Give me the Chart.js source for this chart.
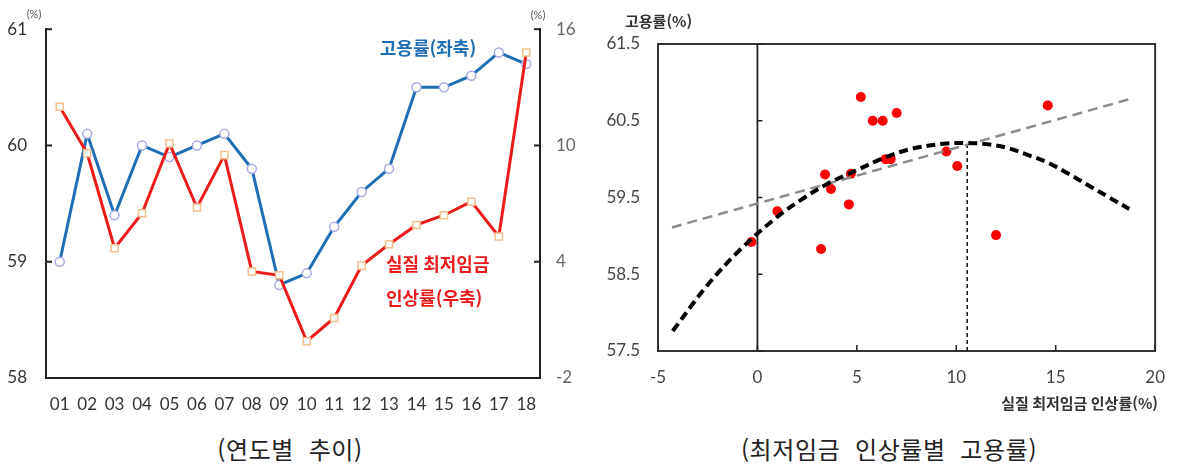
<!DOCTYPE html>
<html lang="ko">
<head>
<meta charset="utf-8">
<title>실질 최저임금 인상률과 고용률</title>
<script src="https://cdn.jsdelivr.net/npm/chart.js@4.4.1/dist/chart.umd.min.js"></script>
<style>
  html, body { margin: 0; padding: 0; background: #fff; }
  #wrap { position: relative; width: 1181px; height: 467px; overflow: hidden; }
  canvas { position: absolute; top: 0; }
  #trend { left: 0; }
  #scatter { left: 590px; }
  .caption {
    position: absolute; top: 433px; transform: translateX(-50%);
    font-family: 'Noto Sans CJK KR', sans-serif; font-size: 24px; color: #222;
    letter-spacing: 0.6px; white-space: pre; line-height: 32px;
  }
</style>
</head>
<body>
<div id="wrap">
  <canvas id="trend" width="590" height="420"></canvas>
  <canvas id="scatter" width="591" height="420"></canvas>
  <div class="caption" style="left:290px">(연도별  추이)</div>
  <div class="caption" style="left:889px">(최저임금  인상률별  고용률)</div>
</div>
<script>
// ---- yearly trend (2001–2018) ----
const years = ['01','02','03','04','05','06','07','08','09','10','11','12','13','14','15','16','17','18'];
const employmentRate = [59.0, 60.1, 59.4, 60.0, 59.9, 60.0, 60.1, 59.8, 58.8, 58.9, 59.3, 59.6, 59.8, 60.5, 60.5, 60.6, 60.8, 60.7];
const realWageGrowth = [12.0, 9.6, 4.7, 6.5, 10.1, 6.8, 9.5, 3.5, 3.3, -0.1, 1.1, 3.8, 4.9, 5.9, 6.4, 7.1, 5.3, 14.8];
const leftTicks = [58, 59, 60, 61];
const rightTicks = [-2, 4, 10, 16];

// ---- employment rate by real minimum-wage growth ----
const wageGrowthX = [-0.3, 1.0, 3.2, 3.4, 3.7, 4.6, 4.7, 5.2, 5.8, 6.3, 6.45, 6.7, 7.0, 9.5, 10.05, 12.0, 14.6];
const employmentY = [58.92, 59.32, 58.83, 59.8, 59.61, 59.41, 59.81, 60.81, 60.5, 60.5, 60.0, 60.0, 60.6, 60.1, 59.91, 59.01, 60.7];
const linearFitX = [-4.3, 18.7];
const linearFitY = [59.11, 60.78];
const quadFitX = [-4.26, -2.6, -0.95, 0.96, 2.37, 3.53, 4.86, 6.4, 7.68, 9.34, 10.55, 11.7, 12.65, 13.65, 14.64, 15.64, 16.63, 17.63, 18.7];
const quadFitY = [57.76, 58.33, 58.8, 59.24, 59.5, 59.68, 59.84, 60.02, 60.13, 60.2, 60.21, 60.19, 60.14, 60.05, 59.95, 59.81, 59.66, 59.51, 59.35];
const peakX = 10.55;
const peakY = 60.21;
const scatterXTicks = [-5, 0, 5, 10, 15, 20];
const scatterYTicks = [57.5, 58.5, 59.5, 60.5, 61.5];

const NUM_FONT = "Lato, 'Noto Sans', sans-serif";
const KR_FONT = "'Noto Sans CJK KR', sans-serif";
const pairs = (xs, ys) => xs.map((x, i) => ({ x, y: ys[i] }));

// short tick marks drawn on the inside of an axis line
const innerTicks = {
  id: 'innerTicks',
  afterDatasetsDraw(chart, args, opts) {
    const { ctx, chartArea } = chart;
    ctx.save();
    ctx.strokeStyle = opts.color || '#222';
    ctx.lineWidth = opts.width || 2;
    (opts.marks || []).forEach(m => {
      const s = chart.scales[m.scale];
      const len = m.length || 6;
      m.values.forEach(v => {
        const p = s.getPixelForValue(v);
        ctx.beginPath();
        if (s.isHorizontal()) {
          const y0 = m.at === 'bottom' ? chartArea.bottom : chartArea.top;
          ctx.moveTo(p, y0);
          ctx.lineTo(p, y0 + m.dir * len);
        } else {
          let x0;
          if (m.at === 'left') x0 = chartArea.left;
          else if (m.at === 'right') x0 = chartArea.right;
          else x0 = chart.scales[m.at.scale].getPixelForValue(m.at.value);
          ctx.moveTo(x0, p);
          ctx.lineTo(x0 + m.dir * len, p);
        }
        ctx.stroke();
      });
    });
    ctx.restore();
  }
};

// free text placed on the canvas
const notes = {
  id: 'notes',
  afterDraw(chart, args, opts) {
    const ctx = chart.ctx;
    ctx.save();
    (opts.items || []).forEach(t => {
      ctx.font = t.font;
      ctx.fillStyle = t.color;
      ctx.textAlign = t.align || 'left';
      ctx.textBaseline = 'middle';
      ctx.fillText(t.text, t.x, t.y);
    });
    ctx.restore();
  }
};

// closes the plot box on the top and right
const frame = {
  id: 'frame',
  beforeDatasetsDraw(chart, args, opts) {
    if (!opts.show) return;
    const { ctx, chartArea: a } = chart;
    ctx.save();
    ctx.strokeStyle = opts.color;
    ctx.lineWidth = opts.width;
    ctx.beginPath();
    ctx.moveTo(a.left, a.top);
    ctx.lineTo(a.right, a.top);
    ctx.lineTo(a.right, a.bottom);
    ctx.stroke();
    ctx.restore();
  }
};

const tickFont = (size) => ({ family: NUM_FONT, size });

new Chart(document.getElementById('trend'), {
  type: 'line',
  data: {
    labels: years,
    datasets: [
      {
        label: '실질 최저임금 인상률(우축)',
        data: realWageGrowth,
        yAxisID: 'yR',
        borderColor: '#ec1c1c',
        borderWidth: 3,
        pointStyle: 'rect',
        pointRadius: 5,
        pointBackgroundColor: '#ffffff',
        pointBorderColor: '#f4c08e',
        pointBorderWidth: 1.5,
        tension: 0
      },
      {
        label: '고용률(좌축)',
        data: employmentRate,
        yAxisID: 'yL',
        borderColor: '#1f6db4',
        borderWidth: 3,
        pointStyle: 'circle',
        pointRadius: 4.5,
        pointBackgroundColor: '#ffffff',
        pointBorderColor: '#a9abe6',
        pointBorderWidth: 1.5,
        tension: 0
      }
    ]
  },
  options: {
    responsive: false,
    animation: false,
    devicePixelRatio: 1,
    layout: { padding: { top: 27, left: 0, right: 0, bottom: 0 } },
    plugins: {
      legend: { display: false },
      tooltip: { enabled: false },
      innerTicks: {
        color: '#222', width: 2,
        marks: [
          { scale: 'yL', values: leftTicks, at: 'left', dir: 1, length: 6 },
          { scale: 'yR', values: rightTicks, at: 'right', dir: -1, length: 6 }
        ]
      },
      notes: {
        items: [
          { text: '(%)', x: 34, y: 14, font: `11px ${NUM_FONT}`, color: '#555', align: 'center' },
          { text: '(%)', x: 538, y: 15, font: `11px ${NUM_FONT}`, color: '#555', align: 'center' },
          { text: '고용률(좌축)', x: 428, y: 48, font: `bold 18px ${KR_FONT}`, color: '#1f6db4', align: 'center' },
          { text: '실질 최저임금', x: 386, y: 264, font: `bold 18px ${KR_FONT}`, color: '#ec1c1c', align: 'left' },
          { text: '인상률(우축)', x: 386, y: 298, font: `bold 18px ${KR_FONT}`, color: '#ec1c1c', align: 'left' }
        ]
      }
    },
    scales: {
      x: {
        offset: true,
        grid: { display: false, drawTicks: false },
        border: { display: true, color: '#222', width: 2 },
        ticks: { font: tickFont(17), color: '#333', padding: 16, maxRotation: 0, autoSkip: false },
        afterFit: s => { s.height = 42; }
      },
      yL: {
        position: 'left',
        min: 58, max: 61,
        grid: { display: false, drawTicks: false },
        border: { display: true, color: '#222', width: 2 },
        ticks: { stepSize: 1, font: tickFont(17), color: '#333', padding: 19 },
        afterBuildTicks: s => { s.ticks = leftTicks.map(v => ({ value: v })); },
        afterFit: s => { s.width = 46; }
      },
      yR: {
        position: 'right',
        min: -2, max: 16,
        grid: { display: false, drawTicks: false },
        border: { display: true, color: '#222', width: 2 },
        ticks: { stepSize: 6, font: tickFont(17), color: '#666', padding: 16 },
        afterBuildTicks: s => { s.ticks = rightTicks.map(v => ({ value: v })); },
        afterFit: s => { s.width = 50; }
      }
    }
  },
  plugins: [innerTicks, notes]
});

new Chart(document.getElementById('scatter'), {
  type: 'scatter',
  data: {
    datasets: [
      {
        label: '2차 추세',
        type: 'line',
        data: pairs(quadFitX, quadFitY),
        borderColor: '#000000',
        borderWidth: 4,
        borderDash: [9, 5],
        pointRadius: 0,
        tension: 0.35,
        fill: false
      },
      {
        label: '선형 추세',
        type: 'line',
        data: pairs(linearFitX, linearFitY),
        borderColor: '#8c8c8c',
        borderWidth: 2.5,
        borderDash: [10, 6],
        pointRadius: 0,
        fill: false
      },
      {
        label: '정점',
        type: 'line',
        data: [{ x: peakX, y: 57.5 }, { x: peakX, y: peakY }],
        borderColor: '#111',
        borderWidth: 1.5,
        borderDash: [4, 3],
        pointRadius: 0,
        fill: false
      },
      {
        label: '0',
        type: 'line',
        data: [{ x: 0, y: 57.5 }, { x: 0, y: 61.5 }],
        borderColor: '#222',
        borderWidth: 1.8,
        pointRadius: 0,
        fill: false
      },
      {
        label: '고용률',
        data: pairs(wageGrowthX, employmentY),
        backgroundColor: '#ff0000',
        borderColor: '#ff0000',
        pointRadius: 5,
        pointBorderWidth: 0
      }
    ]
  },
  options: {
    responsive: false,
    animation: false,
    devicePixelRatio: 1,
    layout: { padding: { top: 44, left: 0, right: 21, bottom: 0 } },
    plugins: {
      legend: { display: false },
      tooltip: { enabled: false },
      frame: { show: true, color: '#333', width: 2 },
      innerTicks: {
        color: '#222', width: 1.5,
        marks: [
          { scale: 'y', values: scatterYTicks, at: { scale: 'x', value: 0 }, dir: 1, length: 5 },
          { scale: 'x', values: scatterXTicks, at: 'bottom', dir: -1, length: 6 }
        ]
      },
      notes: {
        items: [
          { text: '고용률(%)', x: 35, y: 21, font: `bold 15px ${KR_FONT}`, color: '#333', align: 'left' },
          { text: '실질 최저임금 인상률(%)', x: 568, y: 403, font: `bold 15px ${KR_FONT}`, color: '#333', align: 'right' }
        ]
      }
    },
    scales: {
      x: {
        type: 'linear',
        min: -5, max: 20,
        grid: { display: false, drawTicks: false },
        border: { display: true, color: '#333', width: 2 },
        ticks: { stepSize: 5, font: tickFont(17), color: '#444', padding: 16 },
        afterBuildTicks: s => { s.ticks = scatterXTicks.map(v => ({ value: v })); },
        afterFit: s => { s.height = 69; }
      },
      y: {
        min: 57.5, max: 61.5,
        grid: { display: false, drawTicks: false },
        border: { display: true, color: '#333', width: 2 },
        ticks: { stepSize: 1, font: tickFont(17), color: '#444', padding: 18 },
        afterBuildTicks: s => { s.ticks = scatterYTicks.map(v => ({ value: v })); },
        afterFit: s => { s.width = 68; }
      }
    }
  },
  plugins: [innerTicks, notes, frame]
});
</script>
</body>
</html>
